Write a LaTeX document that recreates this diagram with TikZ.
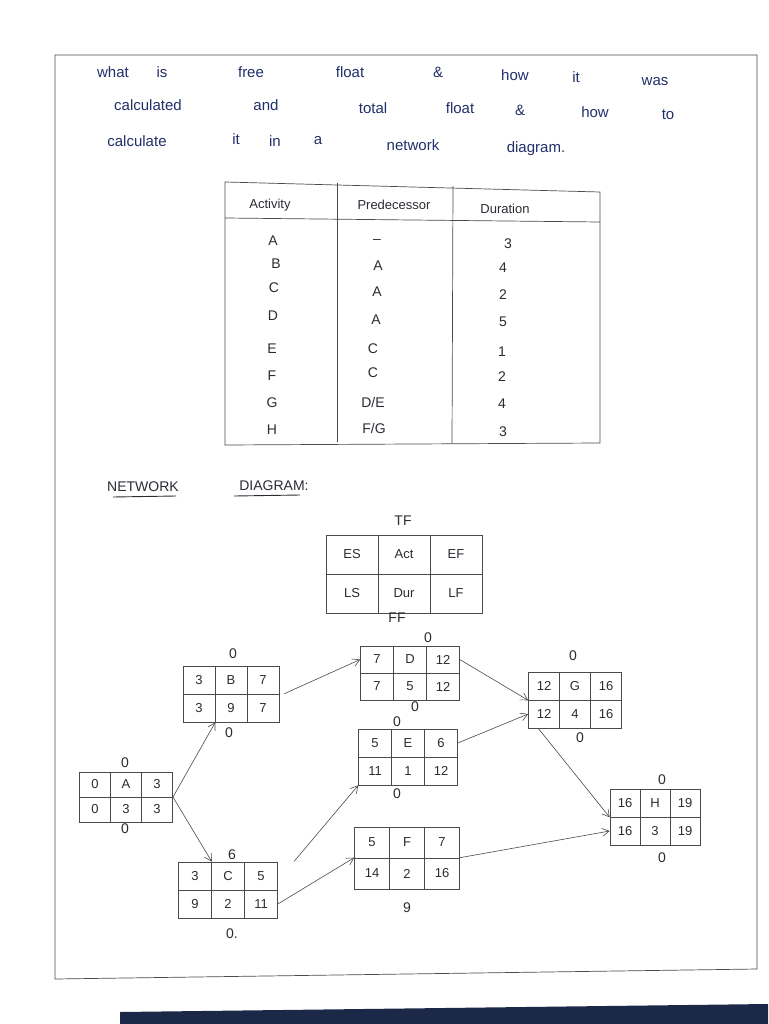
\documentclass[tikz,border=0pt]{standalone}
\usepackage{fontspec}
\setmainfont{Liberation Sans}
\usetikzlibrary{matrix,arrows.meta,positioning,calc}
\definecolor{ink}{HTML}{22306A}
\definecolor{pen}{HTML}{2B2B33}
\definecolor{rule}{HTML}{4A4A4A}
\definecolor{navyband}{HTML}{1B2847}
\begin{document}
\begin{tikzpicture}[x=1pt,y=-1pt,
  hw/.style={text=ink,font=\fontsize{15}{17}\selectfont,inner sep=0pt},
  tb/.style={text=pen,font=\fontsize{14}{16}\selectfont,inner sep=0pt},
  th/.style={text=pen,font=\fontsize{13}{15}\selectfont,inner sep=0pt},
  act/.style 2 args={matrix of nodes, column sep=-0.6pt, row sep=-0.6pt, inner sep=0pt,
     nodes={draw=rule, line width=0.6pt, text=pen, font=\fontsize{13}{15}\selectfont,
            anchor=center, inner sep=0pt, minimum width=#1, minimum height=#2}},
  flt/.style={text=pen,font=\fontsize{14}{16}\selectfont,inner sep=0pt},
  arr/.style={draw=rule, line width=0.6pt, -{Straight Barb[length=7pt,width=8pt]}},
  frame/.style={draw=rule, line width=0.7pt},
]
\useasboundingbox (0,0) rectangle (768,1024);
\fill[white] (0,0) rectangle (768,1024);
% bottom dark band (photo edge)
\fill[navyband] (120,1024) -- (120,1012) -- (768,1004) -- (768,1024) -- cycle;
% page frame
\draw[frame] (55,55) -- (757,55) -- (757,969) -- (55,979) -- cycle;

% ---- header question ----
\node[hw] (h1) at (113,72) {what};
\node[hw] (h2) at (162,72) {is};
\node[hw] (h3) at (251,72) {free};
\node[hw] (h4) at (350,72) {float};
\node[hw] (h5) at (438,72) {\&};
\node[hw] (h6) at (515,75) {how};
\node[hw] (h7) at (576,77) {it};
\node[hw] (h8) at (655,82) {was};
\node[hw] (h9) at (148,105) {calculated};
\node[hw] (h10) at (266,105) {and};
\node[hw] (h11) at (373,108) {total};
\node[hw] (h12) at (460,108) {float};
\node[hw] (h13) at (520,110) {\&};
\node[hw] (h14) at (595,112) {how};
\node[hw] (h15) at (668,115) {to};
\node[hw] (h16) at (137,141) {calculate};
\node[hw] (h17) at (236,139) {it};
\node[hw] (h18) at (275,141) {in};
\node[hw] (h19) at (318,141) {a};
\node[hw] (h20) at (413,145) {network};
\node[hw] (h21) at (536,149) {diagram.};

% ---- table ----
\draw[frame] (225,182) -- (600,192) -- (600,443) -- (225,445) -- cycle;
\draw[frame] (225,218) -- (600,222);
\draw[frame] (337,183) -- (337,442);
\draw[frame] (453,186) -- (452,443);
\node[th] (tA) at (270,205) {Activity};
\node[th] (tP) at (394,205) {Predecessor};
\node[th] (tD) at (505,209) {Duration};
\node[tb] (a1) at (273,241) {A};  \node[tb] (p1) at (377,241) {--};   \node[tb] (d1) at (508,244) {3};
\node[tb] (a2) at (276,264) {B};  \node[tb] (p2) at (378,266) {A};    \node[tb] (d2) at (503,268) {4};
\node[tb] (a3) at (274,288) {C};  \node[tb] (p3) at (377,292) {A};    \node[tb] (d3) at (503,295) {2};
\node[tb] (a4) at (273,316) {D};  \node[tb] (p4) at (376,320) {A};    \node[tb] (d4) at (503,322) {5};
\node[tb] (a5) at (272,349) {E};  \node[tb] (p5) at (373,349) {C};    \node[tb] (d5) at (502,352) {1};
\node[tb] (a6) at (272,376) {F};  \node[tb] (p6) at (373,373) {C};    \node[tb] (d6) at (502,377) {2};
\node[tb] (a7) at (272,403) {G};  \node[tb] (p7) at (373,402) {D/E};  \node[tb] (d7) at (502,404) {4};
\node[tb] (a8) at (272,430) {H};  \node[tb] (p8) at (374,428) {F/G};  \node[tb] (d8) at (503,432) {3};

% ---- network diagram title ----
\node[tb] (nw1) at (143,487) {NETWORK};
\node[tb] (nw2) at (274,486) {DIAGRAM:};
\draw[pen, line width=0.9pt] (113,497) -- (176,496);
\draw[pen, line width=0.9pt] (234,496) -- (300,495);

% ---- legend ----
\matrix[act={52pt}{39pt}] (L) at (404,574) {ES & Act & EF\\ LS & Dur & LF\\};
\node[flt] (Ltf) at (403,521) {TF};
\node[flt] (Lff) at (397,618) {FF};

% ---- activity boxes ----
\matrix[act={31pt}{25pt}] (A) at (126,797) {0 & A & 3\\ 0 & 3 & 3\\};
\matrix[act={32pt}{28pt}] (B) at (231,694) {3 & B & 7\\ 3 & 9 & 7\\};
\matrix[act={33pt}{28pt}] (C) at (228,890) {3 & C & 5\\ 9 & 2 & 11\\};
\matrix[act={33pt}{27pt}] (D) at (410,673) {7 & D & 12\\ 7 & 5 & 12\\};
\matrix[act={33pt}{28pt}] (E) at (408,757) {5 & E & 6\\ 11 & 1 & 12\\};
\matrix[act={35pt}{31pt}] (F) at (407,858) {5 & F & 7\\ 14 & 2 & 16\\};
\matrix[act={31pt}{28pt}] (G) at (575,700) {12 & G & 16\\ 12 & 4 & 16\\};
\matrix[act={30pt}{28pt}] (H) at (655,817) {16 & H & 19\\ 16 & 3 & 19\\};

% floats
\node[flt] (Atf) at (125,763) {0};  \node[flt] (Aff) at (125,829) {0};
\node[flt] (Btf) at (233,654) {0};  \node[flt] (Bff) at (229,733) {0};
\node[flt] (Ctf) at (232,855) {6};  \node[flt] (Cff) at (232,934) {0.};
\node[flt] (Dtf) at (428,638) {0};  \node[flt] (Dff) at (415,707) {0};
\node[flt] (Etf) at (397,722) {0};  \node[flt] (Eff) at (397,794) {0};
\node[flt] (Fff) at (407,908) {9};
\node[flt] (Gtf) at (573,656) {0};  \node[flt] (Gff) at (580,738) {0};
\node[flt] (Htf) at (662,780) {0};  \node[flt] (Hff) at (662,858) {0};

% ---- connectors ----
\draw[arr] (A.east) -- (B-2-1.south east);
\draw[arr] (A.east) -- (C-1-1.north east);
\draw[arr] ([xshift=5pt]B-2-3.north east) -- (D-1-1.west);
\draw[arr] ([xshift=16pt]C.north east) -- (E-2-1.south west);
\draw[arr] (C-2-3.east) -- (F-2-1.north west);
\draw[arr] (D-1-3.east) -- (G-1-1.south west);
\draw[arr] (E-1-3.east) -- (G-2-1.west);
\draw[arr] ([xshift=10pt]G-2-1.south west) -- (H-1-1.south west);
\draw[arr] (F-2-3.north east) -- (H-2-1.west);
\end{tikzpicture}
\end{document}
